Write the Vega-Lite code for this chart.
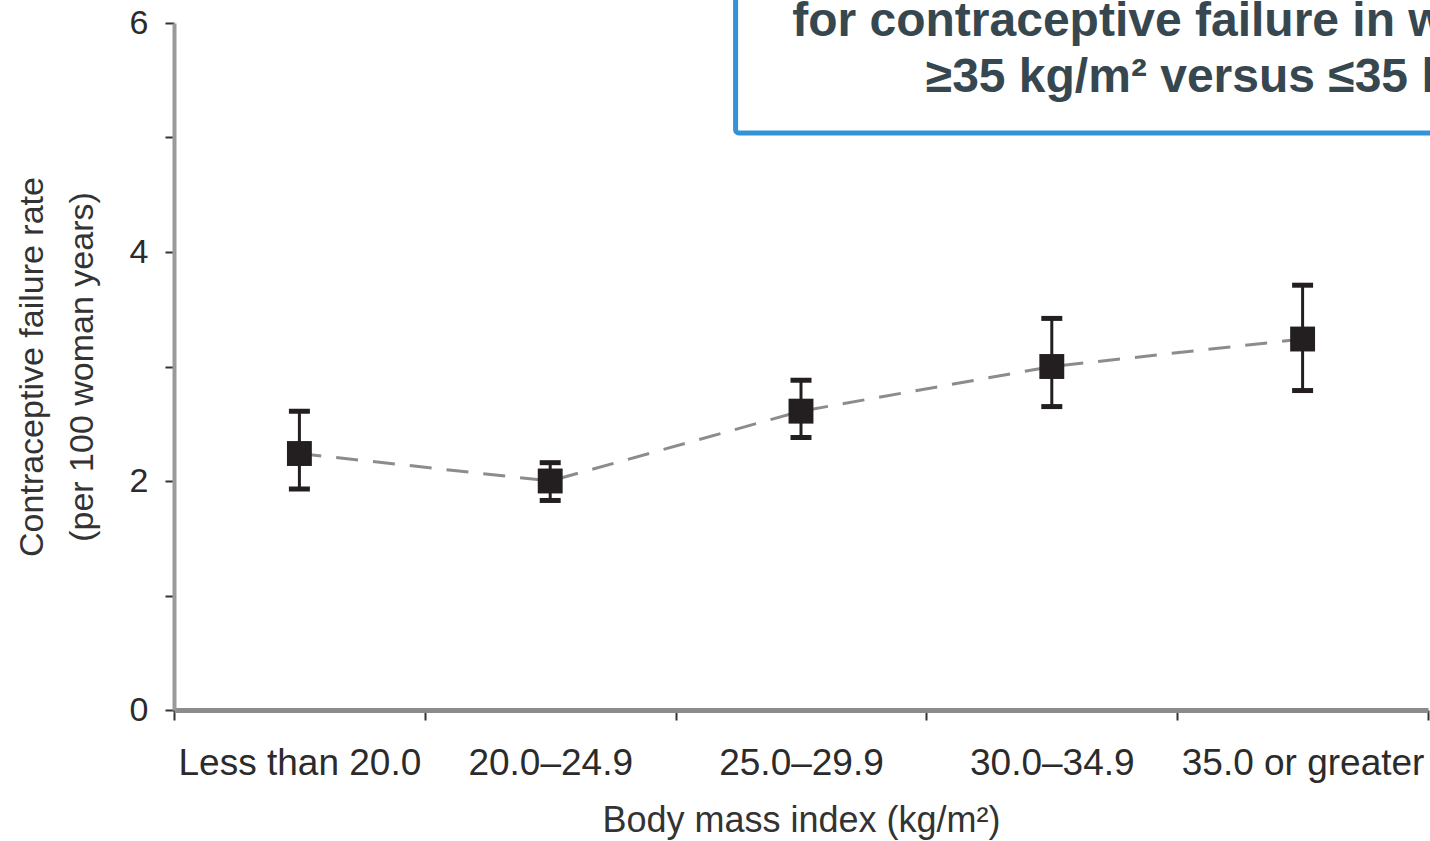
{
  "$schema": "https://vega.github.io/schema/vega-lite/v6.json",
  "width": 1254,
  "height": 687,
  "autosize": {"type": "none"},
  "padding": {"left": 174, "top": 23, "right": 2, "bottom": 131},
  "background": "white",
  "config": {"view": {"stroke": null}, "font": "Liberation Sans"},
  "data": {
    "values": [
      {"bmi": "Less than 20.0", "rate": 2.24, "lo": 1.93, "hi": 2.61},
      {"bmi": "20.0–24.9", "rate": 2.0, "lo": 1.83, "hi": 2.16},
      {"bmi": "25.0–29.9", "rate": 2.61, "lo": 2.38, "hi": 2.88},
      {"bmi": "30.0–34.9", "rate": 3.0, "lo": 2.65, "hi": 3.42},
      {"bmi": "35.0 or greater", "rate": 3.24, "lo": 2.79, "hi": 3.71}
    ]
  },
  "layer": [
    {
      "mark": {"type": "line", "strokeDash": [22, 15], "color": "#8c8c8c", "strokeWidth": 3},
      "encoding": {
        "x": {
          "field": "bmi",
          "type": "nominal",
          "scale": {
            "type": "band",
            "domain": ["Less than 20.0", "20.0–24.9", "25.0–29.9", "30.0–34.9", "35.0 or greater"],
            "paddingInner": 0,
            "paddingOuter": 0
          },
          "title": "Body mass index (kg/m²)",
          "axis": {
            "tickBand": "extent",
            "labelAngle": 0,
            "domainColor": "#8c8c8c",
            "domainWidth": 5,
            "tickColor": "#333333",
            "tickWidth": 2,
            "tickSize": 10,
            "labelFontSize": 37,
            "labelColor": "#2b2b2b",
            "labelPadding": 25,
            "labelLimit": 0,
            "titleFontSize": 36,
            "titleFontWeight": "normal",
            "titleColor": "#333333",
            "titlePadding": 22
          }
        },
        "y": {
          "field": "rate",
          "type": "quantitative",
          "scale": {"domain": [0, 6], "nice": false, "zero": true},
          "title": ["Contraceptive failure rate", "(per 100 woman years)"],
          "axis": {
            "values": [0, 1, 2, 3, 4, 5, 6],
            "format": "d",
            "labelExpr": "datum.value % 2 == 0 ? datum.label : ''",
            "grid": false,
            "domainColor": "#9a9a9a",
            "domainWidth": 4,
            "tickColor": "#333333",
            "tickWidth": 2,
            "tickSize": 9,
            "labelFontSize": 34,
            "labelColor": "#2b2b2b",
            "labelPadding": 17,
            "titleFontSize": 34,
            "titleFontWeight": "normal",
            "titleColor": "#333333",
            "titleLineHeight": 50,
            "titlePadding": 30
          }
        }
      }
    },
    {
      "mark": {"type": "rule", "color": "#231f20", "strokeWidth": 3},
      "encoding": {
        "x": {"field": "bmi", "type": "nominal"},
        "y": {"field": "lo", "type": "quantitative"},
        "y2": {"field": "hi"}
      }
    },
    {
      "mark": {"type": "tick", "color": "#231f20", "thickness": 5, "size": 21, "opacity": 1},
      "encoding": {
        "x": {"field": "bmi", "type": "nominal"},
        "y": {"field": "lo", "type": "quantitative"}
      }
    },
    {
      "mark": {"type": "tick", "color": "#231f20", "thickness": 5, "size": 21, "opacity": 1},
      "encoding": {
        "x": {"field": "bmi", "type": "nominal"},
        "y": {"field": "hi", "type": "quantitative"}
      }
    },
    {
      "mark": {"type": "square", "size": 620, "color": "#231f20", "filled": true, "opacity": 1},
      "encoding": {
        "x": {"field": "bmi", "type": "nominal"},
        "y": {"field": "rate", "type": "quantitative"}
      }
    },
    {
      "data": {"values": [{"note": "box"}]},
      "mark": {
        "type": "rect",
        "fill": "white",
        "stroke": "#3492d8",
        "strokeWidth": 5,
        "cornerRadius": 3,
        "xOffset": 60,
        "x2Offset": 200
      },
      "encoding": {
        "x": {"datum": "25.0–29.9", "type": "nominal", "bandPosition": 0},
        "x2": {"datum": "35.0 or greater", "bandPosition": 1},
        "y": {"datum": 5.04, "type": "quantitative"},
        "y2": {"datum": 6.6}
      }
    },
    {
      "data": {"values": [{"note": "box"}]},
      "mark": {
        "type": "text",
        "font": "Liberation Sans",
        "fontWeight": "bold",
        "fontSize": 48,
        "color": "#37474f",
        "align": "center",
        "baseline": "alphabetic",
        "lineHeight": 56,
        "xOffset": -65
      },
      "encoding": {
        "x": {"datum": "35.0 or greater", "type": "nominal"},
        "y": {"datum": 5.886, "type": "quantitative"},
        "text": {"value": ["for contraceptive failure in women with", "≥35 kg/m² versus ≤35 kg/m²"]}
      }
    }
  ]
}
